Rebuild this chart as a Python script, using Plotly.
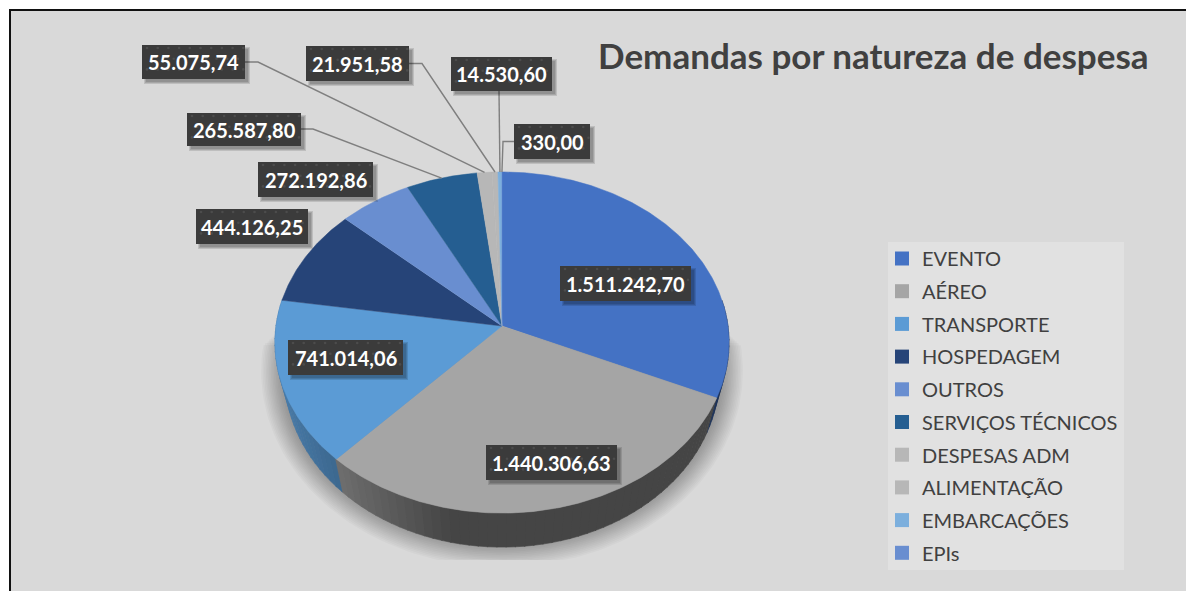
import numpy as np
import plotly.graph_objects as go

# ---- data ----
categories = ["EVENTO", "AÉREO", "TRANSPORTE", "HOSPEDAGEM", "OUTROS",
              "SERVIÇOS TÉCNICOS", "DESPESAS ADM", "ALIMENTAÇÃO", "EMBARCAÇÕES", "EPIs"]
values = [1511242.70, 1440306.63, 741014.06, 444126.25, 272192.86,
          265587.80, 55075.74, 21951.58, 14530.60, 330.00]
colors = ["#4472C4", "#A5A5A5", "#5B9BD5", "#264478", "#698ED0",
          "#255E91", "#B7B7B7", "#B7B7B7", "#7CAFDD", "#698ED0"]
title_text = "Demandas por natureza de despesa"

# label boxes in page pixels: x0, x1, y0, y1
label_boxes = [(560, 691, 266, 301), (486, 617, 445, 480), (288, 403, 340, 375),
               (196, 308, 209, 244), (258, 373, 162, 197), (187, 301, 113, 146),
               (142, 245, 45, 79), (306, 409, 46, 81), (451, 552, 57, 91), (514, 590, 124, 159)]
# leader line knee points per label index: label end, knee
leaders = {5: [(301, 129), (313, 129)], 6: [(245, 62), (258, 62)], 7: [(409, 63.5), (422, 63.5)],
           8: [(499, 91)], 9: [(514, 141.5), (503, 141.5)]}

FONT = "Lato, Carlito, Calibri, sans-serif"
BG = "#D9D9D9"

# ---- pie projection ----
CX, CY, A, B, K = 502.0, 326.0, 226.0, 169.0, 0.0968
DEPTH, A_LOW = 34.0, 216.0


def project(theta, r=1.0, low=False):
    x = r * np.sin(theta)
    y = r * np.cos(theta)
    w = 1 + K * y
    a = A_LOW if low else A
    return CX + a * x / w, CY - B * y / w + (DEPTH if low else 0)


vals = np.array(values)
edges = np.concatenate([[0], np.cumsum(vals)]) / vals.sum() * 2 * np.pi
mids = (edges[:-1] + edges[1:]) / 2

fig = go.Figure()


def poly(xs, ys, fill, line=None, lw=0.0):
    fig.add_trace(go.Scatter(
        x=list(xs), y=list(ys), mode="lines", fill="toself", fillcolor=fill,
        line=dict(color=line or "rgba(0,0,0,0)", width=lw),
        hoverinfo="skip", showlegend=False))


# soft ground shadow
n_layers = 14
tt = np.linspace(0, 2 * np.pi, 240)
for i in range(n_layers):
    f = i / (n_layers - 1)
    rx = 241 - 21 * f
    ry = 196 - 22 * f
    ex = CX + rx * np.cos(tt)
    ey = 371 + ry * np.sin(tt)
    top = 345 - 25 * f
    poly(ex, np.clip(ey, top, 560), "rgba(0,0,0,0.022)")


# side wall shading
def shade_at(xpos):
    return np.interp(xpos, [275, 340, 450, 730], [0.80, 0.66, 0.42, 0.42])


def rgb(hexcol, s):
    h = hexcol.lstrip("#")
    return "rgb(%d,%d,%d)" % tuple(int(int(h[i:i + 2], 16) * s) for i in (0, 2, 4))


start, stop = np.pi * 0.45, np.pi * 1.55
steps = np.linspace(start, stop, 90)
for t0, t1 in zip(steps[:-1], steps[1:]):
    tm = (t0 + t1) / 2
    idx = int(np.searchsorted(edges, tm) - 1)
    arc = np.linspace(t0, t1 + 0.004, 3)
    tx, ty = project(arc)
    lx, ly = project(arc[::-1], low=True)
    mx, _ = project(tm)
    col = rgb(colors[idx], shade_at(mx) if idx != 0 else 0.45)
    poly(np.concatenate([tx, lx]), np.concatenate([ty, ly]), col, col, 0.6)

# top face slices
for i in range(len(values)):
    n = max(3, int((edges[i + 1] - edges[i]) / 0.01))
    th = np.linspace(edges[i], edges[i + 1], n)
    ax, ay = project(th)
    poly(np.concatenate([[CX], ax]), np.concatenate([[CY], ay]), colors[i], colors[i], 0.5)

# leader lines: from the label to the edge of its slice
for i, pts in leaders.items():
    ex, ey = project(mids[i])
    xs = [p[0] for p in pts] + [float(ex)]
    ys = [p[1] for p in pts] + [float(ey)]
    fig.add_trace(go.Scatter(x=xs, y=ys, mode="lines", line=dict(color="#7F7F7F", width=1.4),
                             hoverinfo="skip", showlegend=False))

# label drop shadows and boxes
for (x0, x1, y0, y1) in label_boxes:
    for g in (1, 2, 3):
        poly([x0 + 5 - g, x1 + 2 + g, x1 + 2 + g, x0 + 5 - g],
             [y0 + 5 - g, y0 + 5 - g, y1 + 2 + g, y1 + 2 + g], "rgba(0,0,0,0.12)")
for (x0, x1, y0, y1) in label_boxes:
    poly([x0, x1, x1, x0], [y0, y0, y1, y1], "#3B3B3B")

# dotted texture on the boxes
dx, dy = [], []
for (x0, x1, y0, y1) in label_boxes:
    for row, yy in enumerate(np.arange(y0 + 3, y1 - 1, 10.7)):
        for xx in np.arange(x0 + 5 + (row % 2) * 5.3, x1 - 1, 10.7):
            dx.append(float(xx))
            dy.append(float(yy))
fig.add_trace(go.Scatter(x=dx, y=dy, mode="markers",
                         marker=dict(size=2.6, color="#4C4C4C", line=dict(width=0)),
                         hoverinfo="skip", showlegend=False))


def br(v):
    return f"{v:,.2f}".replace(",", "X").replace(".", ",").replace("X", ".")


annotations = []
for v, (x0, x1, y0, y1) in zip(values, label_boxes):
    annotations.append(dict(x=(x0 + x1) / 2, y=(y0 + y1) / 2, xref="x", yref="y", text=br(v),
                            showarrow=False, xanchor="center", yanchor="middle",
                            font=dict(family=FONT, size=20, color="white", weight="bold")))
annotations.append(dict(x=873, y=55, xref="x", yref="y", text=title_text, showarrow=False,
                        xanchor="center", yanchor="middle",
                        font=dict(family=FONT, size=35, color="#404040", weight="bold")))

# legend entries
for name, col in zip(categories, colors):
    fig.add_trace(go.Scatter(x=[None], y=[None], mode="markers", name=name, legendgroup=name,
                             marker=dict(symbol="square", size=14, color=col, line=dict(width=0))))

fig.update_layout(
    width=1186, height=591, autosize=False,
    margin=dict(l=0, r=0, t=0, b=0, autoexpand=False),
    paper_bgcolor="white", plot_bgcolor="rgba(0,0,0,0)",
    xaxis=dict(range=[0, 1186], visible=False, fixedrange=True),
    yaxis=dict(range=[591, 0], visible=False, fixedrange=True),
    shapes=[
        dict(type="rect", xref="x", yref="y", x0=9, x1=1186, y0=10, y1=591,
             fillcolor=BG, line=dict(width=0), layer="below"),
        dict(type="rect", xref="x", yref="y", x0=9, x1=11, y0=10, y1=591,
             fillcolor="#111111", line=dict(width=0), layer="below"),
        dict(type="rect", xref="x", yref="y", x0=9, x1=1186, y0=9, y1=11,
             fillcolor="#111111", line=dict(width=0), layer="below"),
        dict(type="rect", xref="x", yref="y", x0=888, x1=1124, y0=242, y1=570,
             fillcolor="#E1E1E1", line=dict(width=0), layer="below"),
    ],
    annotations=annotations,
    legend=dict(x=882 / 1186, y=1 - 239 / 591, xanchor="left", yanchor="top",
                bgcolor="rgba(0,0,0,0)", tracegroupgap=3.7,
                font=dict(family=FONT, size=20, color="#404040"),
                itemclick=False, itemdoubleclick=False),
    showlegend=True,
)

fig.write_html("out.html", config={"displayModeBar": False},
               post_script="document.body.style.margin='0';")
